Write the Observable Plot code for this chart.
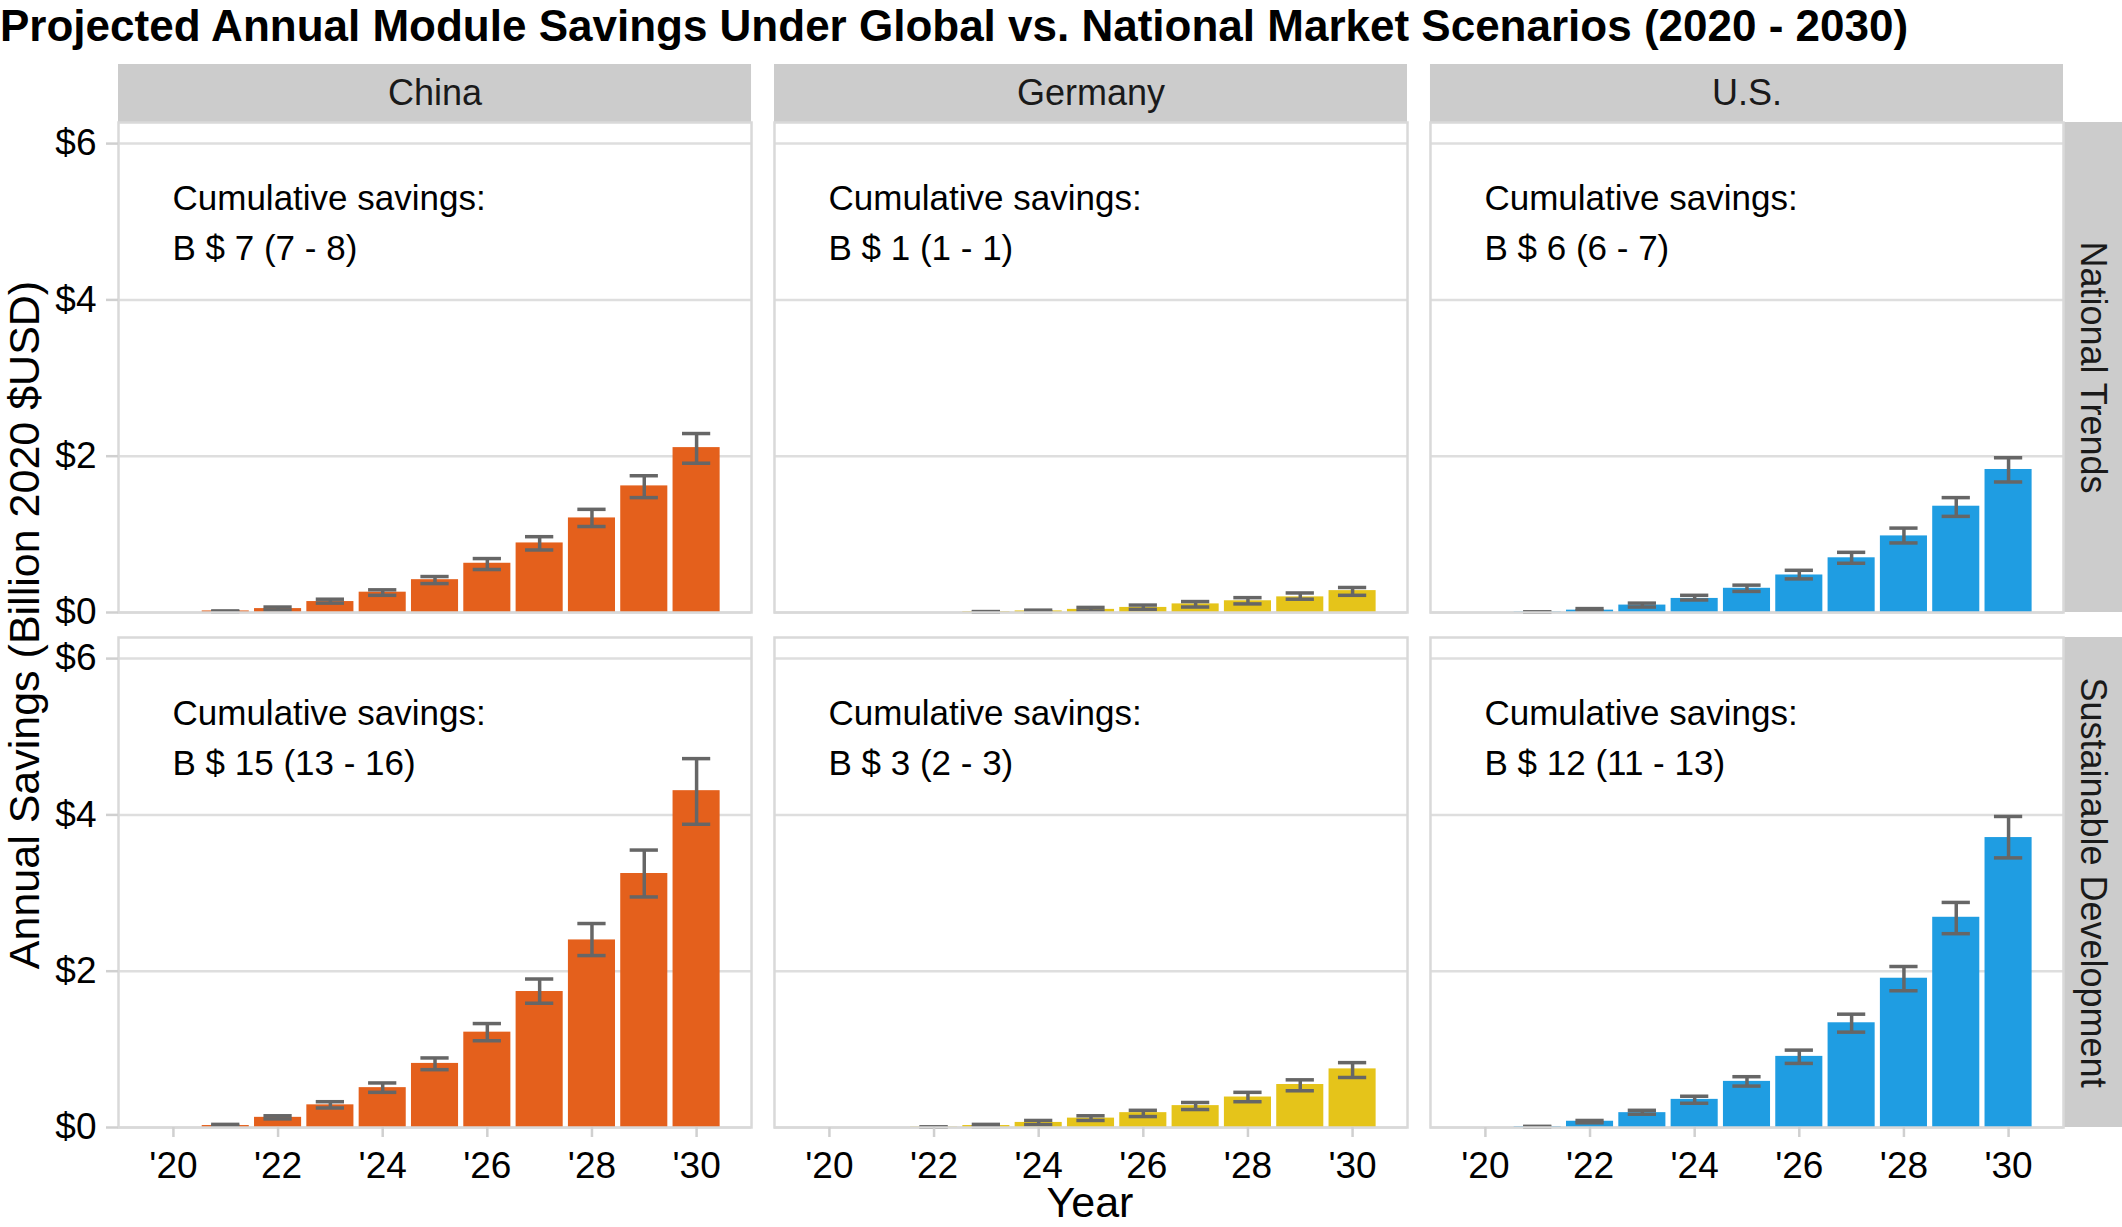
<!DOCTYPE html>
<html>
<head>
<meta charset="utf-8">
<script src="https://cdn.jsdelivr.net/npm/d3@7"></script>
<script src="https://cdn.jsdelivr.net/npm/@observablehq/plot@0.6"></script>
<style>
  html, body { margin: 0; padding: 0; background: #fff; }
  #wrap { position: relative; width: 2122px; height: 1227px; font-family: "Liberation Sans", Arial, Helvetica, sans-serif; color: #000; overflow: hidden; }
  #title { height: 50px; line-height: 51px; font-size: 44px; font-weight: bold; white-space: nowrap; padding-left: 0; overflow: visible; }
  #ylab { position: absolute; left: 24px; top: 625px; transform: translate(-50%, -50%) rotate(-90deg); font-size: 43px; line-height: 43px; white-space: nowrap; }
  #xlab { position: absolute; left: 1090px; top: 1183px; transform: translateX(-50%); font-size: 43px; line-height: 38px; white-space: nowrap; }
</style>
</head>
<body>
<div id="wrap">
  <div id="title">Projected Annual Module Savings Under Global vs. National Market Scenarios (2020 - 2030)</div>
  <div id="chart"></div>
  <div id="ylab">Annual Savings (Billion 2020 $USD)</div>
  <div id="xlab">Year</div>
</div>
<script>
// ---- data ----
const years = [2020, 2021, 2022, 2023, 2024, 2025, 2026, 2027, 2028, 2029, 2030];
const countries = ["China", "Germany", "U.S."];
const scenarios = ["National Trends", "Sustainable Development"];
const countryColors = ["#E4601C", "#E5C41A", "#1F9DE2"];
const yTicks = [0, 2, 4, 6];
const xTicks = [2020, 2022, 2024, 2026, 2028, 2030];

// National Trends
const chinaNat    = [0, 0.02, 0.05, 0.14, 0.26, 0.42, 0.63, 0.89, 1.21, 1.62, 2.11];
const chinaNatLo  = [0, 0.01, 0.03, 0.12, 0.22, 0.37, 0.55, 0.80, 1.10, 1.47, 1.91];
const chinaNatHi  = [0, 0.02, 0.07, 0.17, 0.29, 0.46, 0.69, 0.97, 1.32, 1.75, 2.29];
const germanyNat   = [0, 0, 0, 0.01, 0.02, 0.04, 0.065, 0.11, 0.15, 0.20, 0.28];
const germanyNatLo = [0, 0, 0, 0.005, 0.01, 0.02, 0.04, 0.07, 0.11, 0.17, 0.22];
const germanyNatHi = [0, 0, 0, 0.012, 0.03, 0.065, 0.095, 0.14, 0.19, 0.25, 0.32];
const usNat    = [0, 0.005, 0.03, 0.095, 0.18, 0.31, 0.48, 0.70, 0.98, 1.36, 1.83];
const usNatLo  = [0, 0.003, 0.02, 0.07, 0.16, 0.27, 0.43, 0.63, 0.89, 1.23, 1.67];
const usNatHi  = [0, 0.008, 0.05, 0.12, 0.22, 0.35, 0.54, 0.77, 1.08, 1.47, 1.98];
// Sustainable Development
const chinaSD    = [0, 0.025, 0.13, 0.29, 0.51, 0.82, 1.22, 1.74, 2.40, 3.25, 4.31];
const chinaSDLo  = [0, 0.02, 0.11, 0.25, 0.45, 0.74, 1.11, 1.59, 2.20, 2.95, 3.88];
const chinaSDHi  = [0, 0.04, 0.15, 0.33, 0.57, 0.89, 1.33, 1.90, 2.61, 3.55, 4.72];
const germanySD   = [0, 0, 0.005, 0.025, 0.065, 0.12, 0.19, 0.28, 0.39, 0.55, 0.75];
const germanySDLo = [0, 0, 0.003, 0.01, 0.035, 0.09, 0.14, 0.23, 0.33, 0.47, 0.64];
const germanySDHi = [0, 0, 0.008, 0.04, 0.09, 0.15, 0.22, 0.32, 0.45, 0.61, 0.83];
const usSD    = [0, 0.01, 0.08, 0.19, 0.36, 0.59, 0.91, 1.34, 1.91, 2.69, 3.71];
const usSDLo  = [0, 0.005, 0.06, 0.17, 0.31, 0.53, 0.82, 1.22, 1.75, 2.48, 3.45];
const usSDHi  = [0, 0.015, 0.09, 0.22, 0.40, 0.65, 0.99, 1.45, 2.06, 2.88, 3.98];

const cumNational    = ["B $ 7 (7 - 8)", "B $ 1 (1 - 1)", "B $ 6 (6 - 7)"];
const cumSustainable = ["B $ 15 (13 - 16)", "B $ 3 (2 - 3)", "B $ 12 (11 - 13)"];

// ---- build table ----
const series = [
  ["China", "National Trends", chinaNat, chinaNatLo, chinaNatHi],
  ["Germany", "National Trends", germanyNat, germanyNatLo, germanyNatHi],
  ["U.S.", "National Trends", usNat, usNatLo, usNatHi],
  ["China", "Sustainable Development", chinaSD, chinaSDLo, chinaSDHi],
  ["Germany", "Sustainable Development", germanySD, germanySDLo, germanySDHi],
  ["U.S.", "Sustainable Development", usSD, usSDLo, usSDHi]
];
const rows = [];
for (const [country, scenario, v, lo, hi] of series) {
  years.forEach((year, i) => rows.push({country, scenario, year, value: v[i], lo: lo[i], hi: hi[i]}));
}
const errRows = rows.filter(d => d.hi > 0);
const ann = [];
countries.forEach((c, i) => {
  ann.push({country: c, scenario: scenarios[0], text: "Cumulative savings:\n" + cumNational[i]});
  ann.push({country: c, scenario: scenarios[1], text: "Cumulative savings:\n" + cumSustainable[i]});
});

// ---- layout ----
const W = 2122, H = 1177;
const mL = 118, mR = 59, mT = 72, mB = 100;
const padX = 0.035, padY = 25 / 515;
const stepX = (W - mL - mR) / (3 - padX), panelW = stepX * (1 - padX);
const stepY = (H - mT - mB) / (2 - padY), panelH = stepY * (1 - padY);
const stripH = 58, stripW = 59;
const font = "'Liberation Sans', Arial, Helvetica, sans-serif";
const halfBar = 0.45, halfCap = 0.27;

const chart = Plot.plot({
  width: W, height: H,
  marginLeft: mL, marginRight: mR, marginTop: mT, marginBottom: mB,
  style: {fontFamily: font, fontSize: "37px", color: "#000", background: "#fff", overflow: "visible"},
  fx: {domain: countries, paddingInner: padX, paddingOuter: 0, axis: null, round: false},
  fy: {domain: scenarios, paddingInner: padY, paddingOuter: 0, axis: null, round: false},
  x: {domain: [2018.95, 2031.05], axis: null},
  y: {domain: [0, 6.27], axis: null},
  color: {domain: countries, range: countryColors},
  marks: [
    // strips
    Plot.rect(countries, {fx: d => d, fy: () => scenarios[0], fill: "#CCCCCC", insetTop: -stripH, insetBottom: panelH}),
    Plot.text(countries, {fx: d => d, fy: () => scenarios[0], text: d => d, frameAnchor: "top", textAnchor: "middle", dy: -stripH / 2, lineAnchor: "middle", fontSize: 36, fill: "#1A1A1A"}),
    Plot.rect(scenarios, {fx: () => countries[2], fy: d => d, fill: "#CCCCCC", insetLeft: panelW, insetRight: -stripW}),
    Plot.text(scenarios, {fx: () => countries[2], fy: d => d, text: d => d, frameAnchor: "right", textAnchor: "middle", dx: stripW / 2, rotate: 90, lineAnchor: "middle", fontSize: 36, fill: "#1A1A1A"}),
    // grid
    Plot.gridY(yTicks, {stroke: "#DEDEDE", strokeOpacity: 1, strokeWidth: 2.5}),
    // bars
    Plot.rectY(rows, {fx: "country", fy: "scenario", x1: d => d.year - halfBar, x2: d => d.year + halfBar, y1: 0, y2: "value", fill: "country"}),
    // error bars
    Plot.ruleX(errRows, {fx: "country", fy: "scenario", x: "year", y1: "lo", y2: "hi", stroke: "#666666", strokeWidth: 3.5}),
    Plot.ruleY(errRows, {fx: "country", fy: "scenario", y: "hi", x1: d => d.year - halfCap, x2: d => d.year + halfCap, stroke: "#666666", strokeWidth: 3.5}),
    Plot.ruleY(errRows, {fx: "country", fy: "scenario", y: "lo", x1: d => d.year - halfCap, x2: d => d.year + halfCap, stroke: "#666666", strokeWidth: 3.5}),
    // annotations
    Plot.text(ann, {fx: "country", fy: "scenario", text: "text", frameAnchor: "top-left", textAnchor: "start", lineAnchor: "top", dx: 54, dy: 52, lineHeight: 50 / 35, fontSize: 35, fill: "#000"}),
    // frame
    Plot.frame({stroke: "#D9D9D9", strokeWidth: 2.5}),
    // axes
    Plot.axisY(yTicks, {anchor: "left", tickFormat: d => "$" + d, tickSize: 12, tickPadding: 10, stroke: "#D0D0D0", strokeWidth: 2.5, fill: "#000", fontSize: 37, label: null}),
    Plot.axisX(xTicks, {anchor: "bottom", tickFormat: d => "'" + String(d).slice(2), tickSize: 10, tickPadding: 14, stroke: "#D0D0D0", strokeWidth: 2.5, fill: "#000", fontSize: 37, label: null})
  ]
});
document.getElementById("chart").appendChild(chart);
</script>
</body>
</html>
